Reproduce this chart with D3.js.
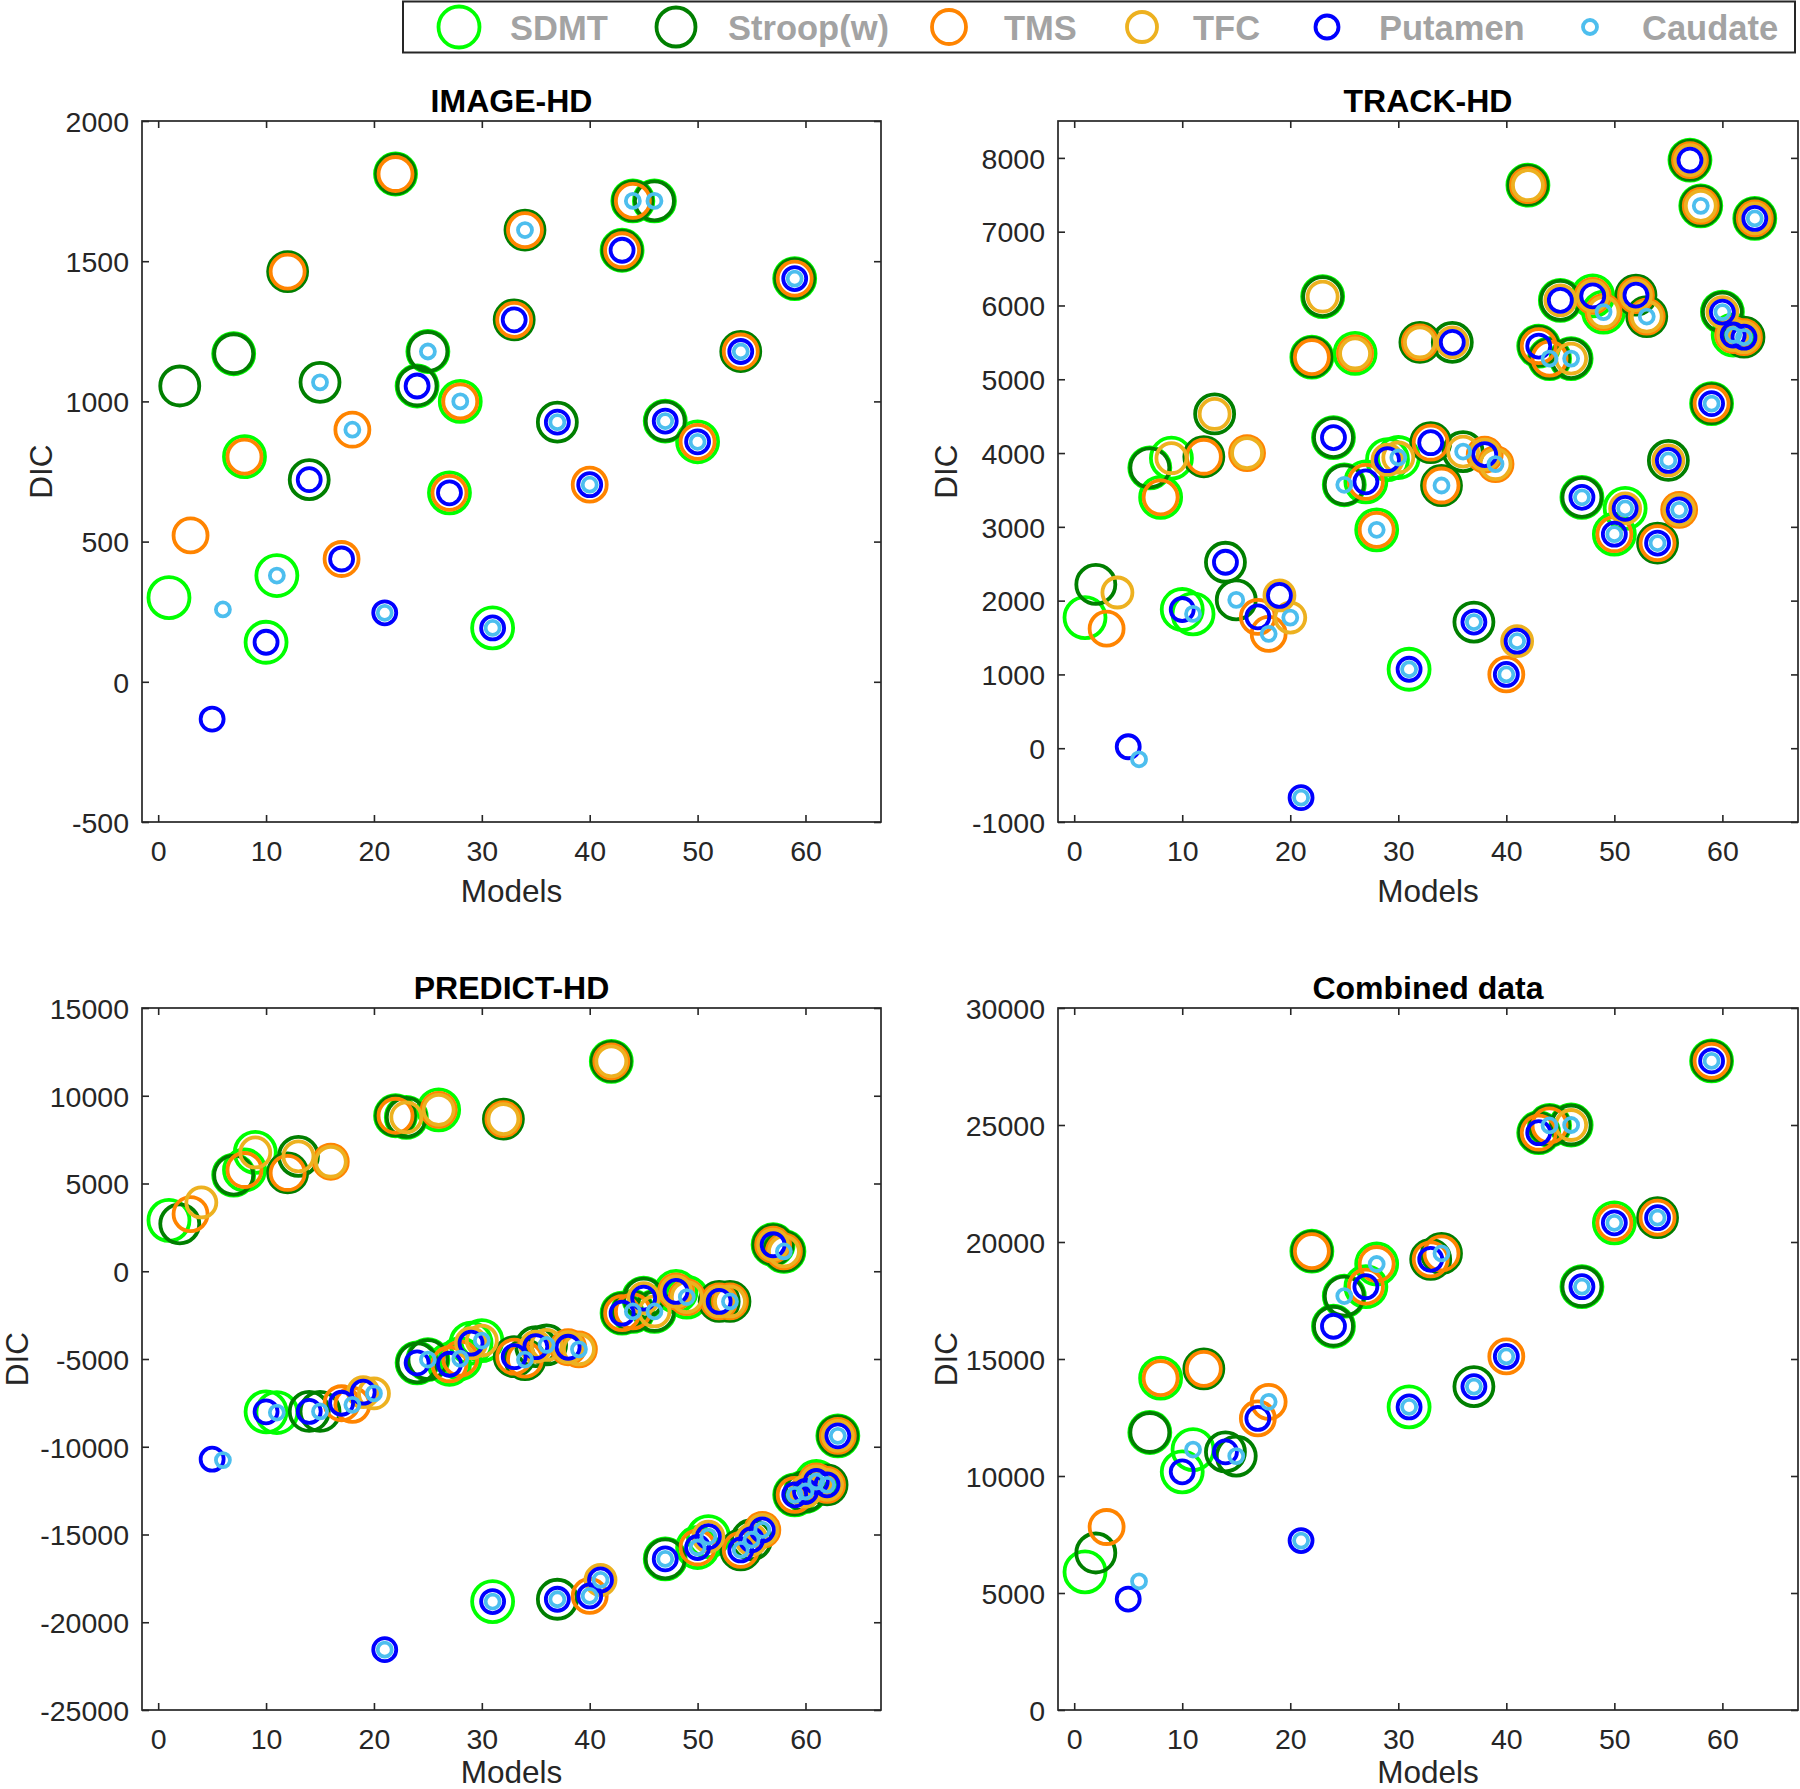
<!DOCTYPE html>
<html><head><meta charset="utf-8">
<script src="https://cdn.jsdelivr.net/npm/d3@7"></script>
<style>
body{margin:0;background:#fff}
svg{display:block}
text{font-family:"Liberation Sans",Arial,Helvetica,sans-serif}
</style>
</head><body>
<svg id="chart" width="1800" height="1789"></svg>
<script>
// ---------------- DATA ----------------
const covariates = ["SDMT", "Stroop(w)", "TMS", "TFC", "Putamen", "Caudate"];
const covariateCodes = ["S", "W", "M", "F", "P", "C"];
const covariateColors = ["#00ff00", "#007f00", "#ff8400", "#edb120", "#0000ff", "#4dbeee"];

// covariates included in each of the 63 models (model number = index + 1)
const modelSets = [
  "S","W","M","F","P","C",
  "SW","SM","SF","SP","SC","WM","WF","WP","WC","MF","MP","MC","FP","FC","PC",
  "SWM","SWF","SWP","SWC","SMF","SMP","SMC","SFP","SFC","SPC",
  "WMF","WMP","WMC","WFP","WFC","WPC","MFP","MFC","MPC","FPC",
  "SWMF","SWMP","SWMC","SWFP","SWFC","SWPC","SMFP","SMFC","SMPC","SFPC",
  "WMFP","WMFC","WMPC","WFPC","MFPC",
  "SWMFP","SWMFC","SWMPC","SWFPC","SMFPC","WMFPC","SWMFPC"
];

const xTicks = [0, 10, 20, 30, 40, 50, 60];

// DIC per model (null = model not shown)
const imageHD = [
  300, 1055, 522, null, -133, 258,
  1170, 803, null, 141, 379, 1463, null, 721, 1068, null, 438, 899, null, null, 246,
  1811, null, 1055, 1178, null, 674, 1000, null, null, 192,
  null, 1291, 1611, null, null, 926, null, null, 703, null,
  null, 1539, 1715, null, 1715, 930, null, null, 856, null,
  null, null, 1178, null, null,
  null, null, 1438, null, null, null, null
];
const trackHD = [
  1770, 2220, 1620, 2110, 20, -150,
  3800, 3400, 3930, 1880, 1820, 3950, 4530, 2520, 2010, 4000, 1780, 1550, 2070, 1770, -670,
  5300, 6120, 4210, 3570, 5350, 3610, 2960, 3910, 3940, 1070,
  5500, 4140, 3560, 5500, 4020, 1710, 3980, 3850, 1000, 1450,
  7630, 5450, 5280, 6070, 5280, 3400, 6130, 5910, 2900, 3250,
  6140, 5850, 2780, 3900, 3230,
  7970, 7350, 4670, 5910, 5600, 5570, 7180
];
const predictHD = [
  2900, 2700, 3260, 3920, -10710, -10760,
  5480, 5770, 6770, -8010, -8050, 5600, 6550, -7990, -7990, 6240, -7520, -7610, -6890, -6960, -21560,
  8860, 8770, -5220, -5030, 9200, -5300, -4980, -4100, -3950, -18820,
  8670, -4870, -5030, -4300, -4200, -18690, -4330, -4450, -18500, -17590,
  11960, -2390, -2290, -1530, -2290, -16390, -1150, -1470, -15740, -15120,
  -1720, -1720, -15880, -15300, -14740,
  1510, 1130, -12740, -12550, -11980, -12170, -9380
];
const combinedData = [
  5900, 6710, 7820, null, 4740, 5500,
  11860, 14180, null, 10180, 11130, 14580, null, 11030, 10850, null, 12460, 13170, null, null, 7240,
  19610, null, 16400, 17690, null, 18090, 19060, null, null, 12950,
  null, 19260, 19510, null, null, 13820, null, null, 15110, null,
  null, 24670, 24980, null, 25000, 18090, null, null, 20820, null,
  null, null, 21040, null, null,
  null, null, 27740, null, null, null, null
];

const imageYTicks = [-500, 0, 500, 1000, 1500, 2000];
const trackYTicks = [-1000, 0, 1000, 2000, 3000, 4000, 5000, 6000, 7000, 8000];
const predictYTicks = [-25000, -20000, -15000, -10000, -5000, 0, 5000, 10000, 15000];
const combinedYTicks = [0, 5000, 10000, 15000, 20000, 25000, 30000];

const imageCovariates = ["SDMT", "Stroop(w)", "TMS", "Putamen", "Caudate"];
const allCovariates = covariates;

// ---------------- LAYOUT ----------------
const markerR = [20.5, 19.5, 17, 15, 11.5, 7];
const markerStroke = 3.8;
const xDomain = [-1.5, 67];
const panels = [
  {title: "IMAGE-HD", values: imageHD, yDomain: [-500, 2000], yTicks: imageYTicks, avail: imageCovariates,
   x0: 142, x1: 881, y0: 121, y1: 822, labelOff: 101, xLabelOff: 80},
  {title: "TRACK-HD", values: trackHD, yDomain: [-1000, 8500], yTicks: trackYTicks, avail: allCovariates,
   x0: 1058, x1: 1798, y0: 121, y1: 822, labelOff: 112, xLabelOff: 80},
  {title: "PREDICT-HD", values: predictHD, yDomain: [-25000, 15000], yTicks: predictYTicks, avail: allCovariates,
   x0: 142, x1: 881, y0: 1008, y1: 1710, labelOff: 125, xLabelOff: 73},
  {title: "Combined data", values: combinedData, yDomain: [0, 30000], yTicks: combinedYTicks, avail: allCovariates,
   x0: 1058, x1: 1798, y0: 1008, y1: 1710, labelOff: 112, xLabelOff: 73}
];

const svg = d3.select("#chart");
svg.append("rect").attr("width", 1800).attr("height", 1789).attr("fill", "#fff");

const axisColor = "#262626";
const tickLen = 7;
const fmt = d => String(d);

panels.forEach(p => {
  const x = d3.scaleLinear().domain(xDomain).range([p.x0, p.x1]);
  const y = d3.scaleLinear().domain(p.yDomain).range([p.y1, p.y0]);
  const g = svg.append("g");

  // axes (MATLAB style box with inward ticks on all sides)
  const axB = d3.axisBottom(x).tickValues(xTicks).tickSizeInner(-tickLen).tickSizeOuter(0).tickPadding(19).tickFormat(fmt);
  const axT = d3.axisTop(x).tickValues(xTicks).tickSizeInner(-tickLen).tickSizeOuter(0).tickFormat("");
  const axL = d3.axisLeft(y).tickValues(p.yTicks).tickSizeInner(-tickLen).tickSizeOuter(0).tickPadding(13).tickFormat(fmt);
  const axR = d3.axisRight(y).tickValues(p.yTicks).tickSizeInner(-tickLen).tickSizeOuter(0).tickFormat("");

  const gb = g.append("g").attr("transform", `translate(0,${p.y1})`).call(axB);
  const gt = g.append("g").attr("transform", `translate(0,${p.y0})`).call(axT);
  const gl = g.append("g").attr("transform", `translate(${p.x0},0)`).call(axL);
  const gr = g.append("g").attr("transform", `translate(${p.x1},0)`).call(axR);
  [gb, gt, gl, gr].forEach(a => {
    a.select(".domain").remove();
    a.selectAll(".tick line").attr("stroke", axisColor).attr("stroke-width", 1.6);
    a.selectAll(".tick text").attr("fill", axisColor).style("font-size", "28.5px")
      .style("font-family", '"Liberation Sans", Arial, Helvetica, sans-serif');
  });
  gb.selectAll(".tick text").attr("dy", "0.71em");
  gl.selectAll(".tick text").attr("dy", "0.36em");

  g.append("rect").attr("x", p.x0).attr("y", p.y0)
    .attr("width", p.x1 - p.x0).attr("height", p.y1 - p.y0)
    .attr("fill", "none").attr("stroke", axisColor).attr("stroke-width", 1.7);

  // markers: one series per covariate, drawn in legend order
  const mg = g.append("g");
  covariates.forEach((cov, ci) => {
    if (!p.avail.includes(cov)) return;
    const code = covariateCodes[ci];
    const pts = [];
    p.values.forEach((v, i) => {
      if (v !== null && modelSets[i].includes(code)) pts.push({m: i + 1, v: v});
    });
    mg.append("g").selectAll("circle").data(pts).join("circle")
      .attr("cx", d => x(d.m)).attr("cy", d => y(d.v))
      .attr("r", markerR[ci])
      .attr("fill", "none")
      .attr("stroke", covariateColors[ci])
      .attr("stroke-width", markerStroke);
  });

  // title and labels
  g.append("text").attr("x", (p.x0 + p.x1) / 2).attr("y", p.y0 - 9)
    .attr("text-anchor", "middle").style("font-size", "32px").style("font-weight", "bold")
    .attr("fill", "#000").text(p.title);
  g.append("text").attr("x", (p.x0 + p.x1) / 2).attr("y", p.y1 + p.xLabelOff)
    .attr("text-anchor", "middle").style("font-size", "31.5px").attr("fill", axisColor).text("Models");
  g.append("text")
    .attr("transform", `translate(${p.x0 - p.labelOff + 11},${(p.y0 + p.y1) / 2}) rotate(-90)`)
    .attr("text-anchor", "middle").style("font-size", "31.5px").attr("fill", axisColor).text("DIC");
});

// ---------------- LEGEND ----------------
const legendMarkerX = [459, 676, 949, 1142, 1327, 1590];
const legendTextX = [510, 728, 1004, 1193, 1379, 1642];
const lg = svg.append("g");
lg.append("rect").attr("x", 403).attr("y", 1.5).attr("width", 1392).attr("height", 51)
  .attr("fill", "#fff").attr("stroke", "#262626").attr("stroke-width", 2);
covariates.forEach((cov, i) => {
  lg.append("circle").attr("cx", legendMarkerX[i]).attr("cy", 27).attr("r", markerR[i])
    .attr("fill", "none").attr("stroke", covariateColors[i]).attr("stroke-width", markerStroke);
  lg.append("text").attr("x", legendTextX[i]).attr("y", 39.5)
    .style("font-size", "34.5px").style("font-weight", "bold").attr("fill", "#a3a3a3").text(cov);
});
</script>
</body></html>
